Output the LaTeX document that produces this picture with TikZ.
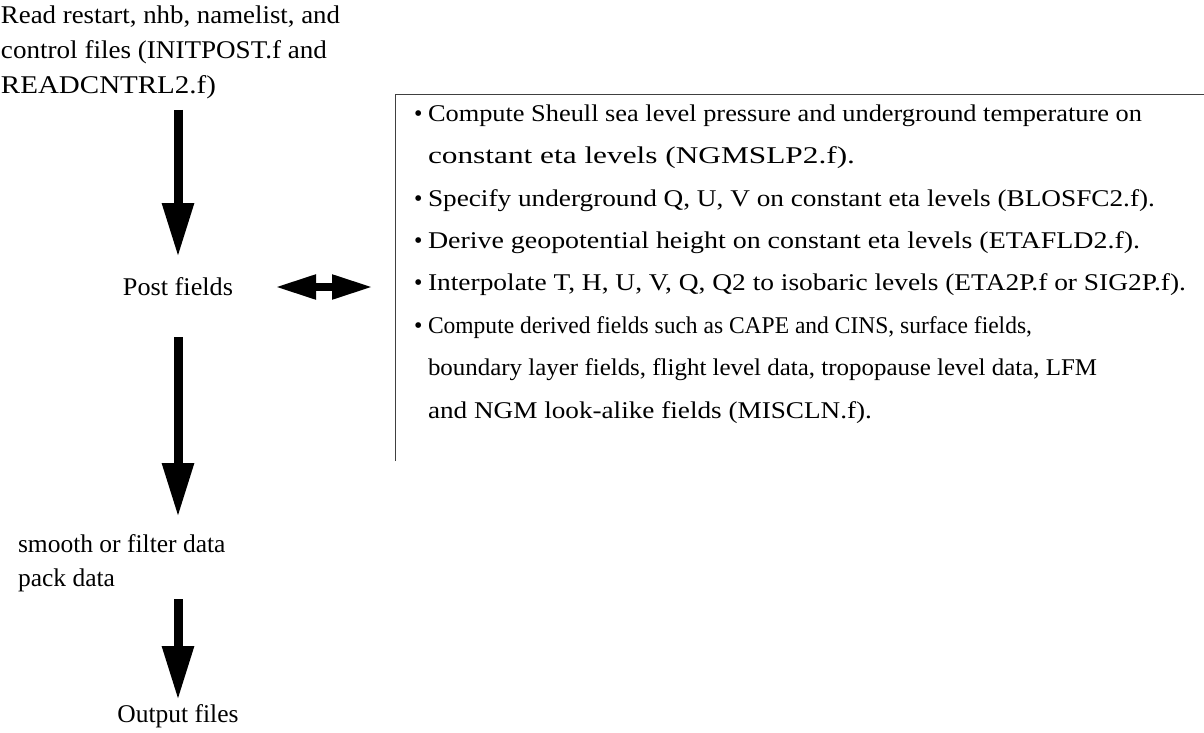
\documentclass[tikz,border=0pt]{standalone}
\usepackage{fontspec}
\setmainfont{Liberation Serif}
\usetikzlibrary{arrows.meta}
% set one line of text to a given width, keeping its height
\newcommand\fitline[2]{\resizebox{#1pt}{\height}{#2}}
\newcommand\itemmark{\makebox[14pt][l]{\textbullet}}
\begin{document}
\begin{tikzpicture}[x=1pt,y=-1pt,
  every node/.style={inner sep=0pt,outer sep=0pt,font=\fontsize{25.5}{35}\selectfont},
  flowarrow/.style={line width=9pt,-{Triangle[length=54pt,width=30pt]}},
  linkarrow/.style={line width=8pt,{Triangle[length=41pt,width=23pt]}-{Triangle[length=41pt,width=23pt]}},
  frame/.style={draw=black!75,line width=1.5pt}]
\useasboundingbox (0,0) rectangle (1204,733);

% step labels down the left column (base anchor sits on the last line)
\node[anchor=base west,align=left] (read) at (1,94)
  {\fitline{339}{Read restart, nhb, namelist, and}\\
   \fitline{326}{control files (INITPOST.f and}\\
   \fitline{215}{READCNTRL2.f)}};
\node (post) at (178,287) {\fitline{110}{Post fields}};
\node[anchor=west,align=left,font=\fontsize{25.5}{34}\selectfont] (smooth) at (18,563)
  {smooth or filter data\\pack data};
\node (out) at (178,716) {Output files};

% anchor points for the vertical arrows
\coordinate (a1) at (178,110);
\coordinate (b1) at (178,257);
\coordinate (a2) at (178,337);
\coordinate (b2) at (178,517);
\coordinate (a3) at (178,599);
\coordinate (b3) at (178,700);

\draw[flowarrow] (a1) -- (b1);
\draw[flowarrow] (a2) -- (b2);
\draw[flowarrow] (a3) -- (b3);

% list of computations performed on the post fields
\node[anchor=base west,align=left,font=\fontsize{24}{42.4}\selectfont] (tasks) at (414,418)
  {\itemmark\fitline{714}{Compute Sheull sea level pressure and underground temperature on}\\
   \hspace*{14pt}\fitline{427}{constant eta levels (NGMSLP2.f).}\\
   \itemmark\fitline{727}{Specify underground Q, U, V on constant eta levels (BLOSFC2.f).}\\
   \itemmark\fitline{712}{Derive geopotential height on constant eta levels (ETAFLD2.f).}\\
   \itemmark\fitline{758}{Interpolate T, H, U, V, Q, Q2 to isobaric levels (ETA2P.f or SIG2P.f).}\\
   \itemmark\fitline{604}{Compute derived fields such as CAPE and CINS, surface fields,}\\
   \hspace*{14pt}\fitline{669}{boundary layer fields, flight level data, tropopause level data, LFM}\\
   \hspace*{14pt}\fitline{444}{and NGM look-alike fields (MISCLN.f).}};
\coordinate (fbl) at (395.5,461);
\coordinate (ftl) at (395.5,94.5);
\coordinate (ftr) at (1204,94.5);
\draw[frame] (fbl) -- (ftl) -- (ftr);

\coordinate (l1) at (275,287);
\coordinate (l2) at (373,287);
\draw[linkarrow] (l1) -- (l2);
\end{tikzpicture}
\end{document}
